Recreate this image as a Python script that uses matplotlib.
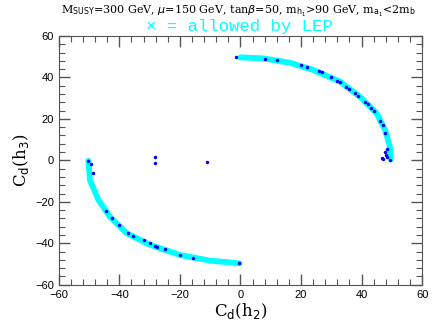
import numpy as np
import matplotlib
matplotlib.use('Agg')
import matplotlib.pyplot as plt
from matplotlib.ticker import MultipleLocator

# cyan band: points allowed by LEP (read along the two arcs)
upper_x = [0.0, 7.6, 16.4, 24.1, 32.9, 39.5, 45.0, 47.8, 49.4, 49.7]
upper_y = [49.7, 49.2, 47.1, 43.6, 38.0, 30.7, 22.7, 14.6, 6.6, 0.5]
lower_x = [-50.2, -49.7, -46.9, -43.1, -37.5, -29.8, -19.9, -10.0, -0.3]
lower_y = [-0.2, -9.5, -19.1, -27.2, -35.2, -40.8, -45.7, -48.4, -49.7]

# blue points
blue_x = [-1.3, 8, 12, 20, 22, 26, 27, 30, 32, 33, 35, 36, 38, 39, 41, 42, 43, 44,
          46, 47, 47.8, 48.3, 47.8, 48.0, 46.7, 47.2, 48.3, 49.5,
          -50.2, -49.3, -48.7, -44.5, -42.5, -40, -37, -35.5, -32, -30, -28.3,
          -27.5, -25, -20, -15.5, -0.3,
          -28.2, -28.2, -11.1]
blue_y = [49.7, 49, 48.5, 46, 45, 43, 42.5, 40, 38.5, 38, 35.5, 34.5, 32.5, 31, 28, 27,
          25.5, 24, 19, 17, 13, 5.5, 4, 2.5, 1, 0.8, 1.5, 0.3,
          -0.3, -1.6, -6, -24.5, -28, -31, -35, -36.5, -38.5, -40, -41.3,
          -41.8, -43, -45.5, -47.2, -49.7,
          1.8, -1.4, -0.9]

title = r'M$_{\rm SUSY}$=300 GeV, $\mu$=150 GeV, tan$\beta$=50, m$_{\rm h_1}$>90 GeV, m$_{\rm a_1}$<2m$_{\rm b}$'

fig = plt.figure(figsize=(4.32, 3.32), dpi=100)
ax = fig.add_axes([0.136, 0.1425, 0.841, 0.749])

ax.plot(upper_x, upper_y, color='#00ffff', lw=4.2, solid_capstyle='round', zorder=2)
ax.plot(lower_x, lower_y, color='#00ffff', lw=4.2, solid_capstyle='round', zorder=2)
ax.plot(blue_x, blue_y, 'o', color='#0000ff', ms=2.5, mew=0, zorder=3)

ax.set_xlim(-60, 60)
ax.set_ylim(-60, 60)
ax.xaxis.set_major_locator(MultipleLocator(20))
ax.xaxis.set_minor_locator(MultipleLocator(4))
ax.yaxis.set_major_locator(MultipleLocator(20))
ax.yaxis.set_minor_locator(MultipleLocator(4))
ax.tick_params(which='both', direction='in', top=True, right=True, color='#555555')
ax.tick_params(which='major', length=8, width=1)
ax.tick_params(which='minor', length=4, width=0.8)
for lab in ax.get_xticklabels() + ax.get_yticklabels():
    lab.set_fontfamily('Liberation Sans')
    lab.set_fontsize(8)
for s in ax.spines.values():
    s.set_color('#555555')

ax.set_xlabel(r'C$_{\rm d}$(h$_2$)', family='DejaVu Serif', fontsize=12, labelpad=1)
ax.set_ylabel(r'C$_{\rm d}$(h$_3$)', family='DejaVu Serif', fontsize=12, labelpad=3)

fig.text(0.551, 0.965, title, family='DejaVu Serif', fontsize=8, ha='center', va='center')
fig.text(0.555, 0.92, '× = allowed by LEP', family='Liberation Mono', fontsize=12.5,
         color='#00ffff', ha='center', va='center')

fig.savefig('out.png', dpi=100)
